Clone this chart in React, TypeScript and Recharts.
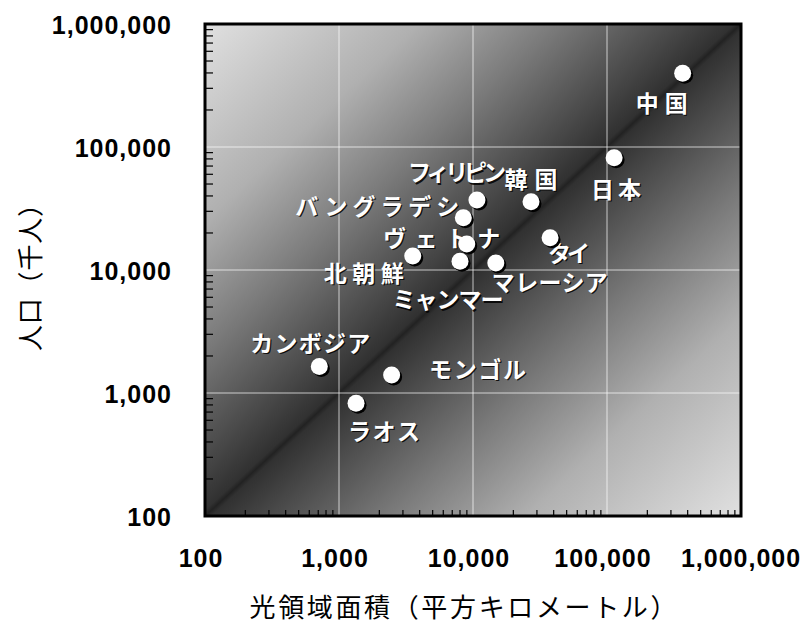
import { ScatterChart, Scatter, XAxis, YAxis, CartesianGrid, ReferenceArea } from 'recharts'

// 国名・光領域面積(km²)・人口(千人)
const countries = [
  '中国',
  '日本',
  '韓国',
  'フィリピン',
  'バングラデシ',
  'ヴェトナ',
  '北朝鮮',
  'ミャンマー',
  'マレーシア',
  'タイ',
  'カンボジア',
  'モンゴル',
  'ラオス',
]
const lightArea = [367000, 113000, 27100, 10700, 8470, 8980, 3550, 8000, 14800, 37600, 713, 2470, 1340]
const population = [397000, 81800, 35900, 37000, 26600, 16300, 13000, 11800, 11400, 18300, 1640, 1400, 824]

const majorTicks = [100, 1000, 10000, 100000, 1000000]
const minorTicks = majorTicks.slice(0, -1).flatMap((d) => [2, 3, 4, 5, 6, 7, 8, 9].map((k) => k * d))
const allTicks = [...majorTicks, ...minorTicks].sort((a, b) => a - b)

const xTitle = '光領域面積（平方キロメートル）'
const yTitle = '人口（千人）'

const points = countries.map((name, i) => ({ name, x: lightArea[i], y: population[i] }))

// label placement relative to each point: [dx, dy, text width]
const labelLayout: Record<string, [number, number, number]> = {
  中国: [-21, 30, 52],
  日本: [2, 32, 50],
  韓国: [0, -22, 53],
  フィリピン: [-20, -27, 98],
  バングラデシ: [-86, -11, 164],
  ヴェトナ: [-25, -5, 117],
  北朝鮮: [-49, 18, 80],
  ミャンマー: [-12, 39, 111],
  マレーシア: [54, 20, 116],
  タイ: [19, 16, 42],
  カンボジア: [-9, -23, 120],
  モンゴル: [86, -5, 97],
  ラオス: [28, 28, 72],
}

const numFont = '"Liberation Sans", Arial, sans-serif'
const jpFont = '"Noto Sans CJK JP", "Noto Sans", sans-serif'
const fmt = (v: number) => v.toLocaleString('en-US')

function XTick({ x, y, payload }: any) {
  const v = payload.value
  if (!majorTicks.includes(v)) {
    return <line x1={x} y1={y} x2={x} y2={y - 6} stroke="#000" strokeWidth={1.2} />
  }
  return (
    <text
      x={v === 1000000 ? x : x - 4}
      y={y + 51}
      textAnchor="middle"
      fontFamily={numFont}
      fontWeight="bold"
      fontSize={25}
      letterSpacing={1}
      fill="#000"
    >
      {fmt(v)}
    </text>
  )
}

function YTick({ x, y, payload }: any) {
  const v = payload.value
  if (!majorTicks.includes(v)) {
    return <line x1={x} y1={y} x2={x + 8} y2={y} stroke="#000" strokeWidth={1.2} />
  }
  return (
    <text
      x={x - 33}
      y={y + 10}
      textAnchor="end"
      fontFamily={numFont}
      fontWeight="bold"
      fontSize={25}
      letterSpacing={1}
      fill="#000"
    >
      {fmt(v)}
    </text>
  )
}

function Dot({ cx, cy }: any) {
  if (cx == null || cy == null) return null
  return (
    <g>
      <circle cx={cx + 2} cy={cy + 2} r={8.5} fill="#000" />
      <circle cx={cx} cy={cy} r={8.5} fill="#fff" />
    </g>
  )
}

function NameLabel({ cx, cy, payload }: any) {
  if (cx == null || cy == null) return null
  const [dx, dy, w] = labelLayout[payload.name] ?? [0, -20, 60]
  const common = {
    textAnchor: 'middle' as const,
    fontFamily: jpFont,
    fontWeight: 'bold',
    fontSize: 23,
    textLength: w,
    lengthAdjust: 'spacing' as const,
  }
  return (
    <g>
      <text x={cx + dx + 1.2} y={cy + dy + 9.4} fill="#000" fillOpacity={0.85} {...common}>
        {payload.name}
      </text>
      <text x={cx + dx} y={cy + dy + 8.2} fill="#fff" {...common}>
        {payload.name}
      </text>
    </g>
  )
}

export default function App() {
  return (
    <div style={{ position: 'absolute', left: 0, top: 0, width: 805, height: 627, background: '#fff' }}>
      <ScatterChart width={805} height={627} margin={{ top: 24, right: 64, bottom: 0, left: 0 }}>
        <defs>
          <linearGradient id="bgGrad" x1="0" y1="0" x2="1" y2="1">
            <stop offset="0" stopColor="#e0e0e0" />
            <stop offset="0.2" stopColor="#b0b0b0" />
            <stop offset="0.33" stopColor="#7a7a7a" />
            <stop offset="0.45" stopColor="#454545" />
            <stop offset="0.494" stopColor="#313131" />
            <stop offset="0.5" stopColor="#222222" />
            <stop offset="0.506" stopColor="#313131" />
            <stop offset="0.55" stopColor="#454545" />
            <stop offset="0.67" stopColor="#7a7a7a" />
            <stop offset="0.8" stopColor="#b0b0b0" />
            <stop offset="1" stopColor="#e0e0e0" />
          </linearGradient>
        </defs>
        <CartesianGrid
          fill="url(#bgGrad)"
          fillOpacity={1}
          stroke="#ffffff"
          strokeOpacity={0.7}
          strokeWidth={1}
          verticalValues={majorTicks}
          horizontalValues={majorTicks}
        />
        <XAxis
          dataKey="x"
          type="number"
          scale="log"
          domain={[100, 1000000]}
          ticks={allTicks}
          interval={0}
          allowDataOverflow
          height={111}
          axisLine={false}
          tickLine={false}
          tickSize={0}
          tickMargin={0}
          tick={<XTick />}
        />
        <YAxis
          dataKey="y"
          type="number"
          scale="log"
          domain={[100, 1000000]}
          ticks={allTicks}
          interval={0}
          allowDataOverflow
          width={205}
          axisLine={false}
          tickLine={false}
          tickSize={0}
          tickMargin={0}
          tick={<YTick />}
        />
        <ReferenceArea
          x1={100}
          x2={1000000}
          y1={100}
          y2={1000000}
          fill="none"
          stroke="#000"
          strokeWidth={3}
          ifOverflow="visible"
        />
        <Scatter data={points} isAnimationActive={false} shape={(p: any) => <NameLabel {...p} />} />
        <Scatter data={points} isAnimationActive={false} shape={(p: any) => <Dot {...p} />} />
        <text
          x={463}
          y={617}
          textAnchor="middle"
          fontFamily={jpFont}
          fontSize={26}
          textLength={427}
          lengthAdjust="spacing"
          fill="#000"
        >
          {xTitle}
        </text>
        <text
          x={0}
          y={0}
          transform="translate(40 271) rotate(-90)"
          textAnchor="middle"
          fontFamily={jpFont}
          fontSize={26}
          textLength={160}
          lengthAdjust="spacing"
          fill="#000"
        >
          {yTitle}
        </text>
      </ScatterChart>
    </div>
  )
}
